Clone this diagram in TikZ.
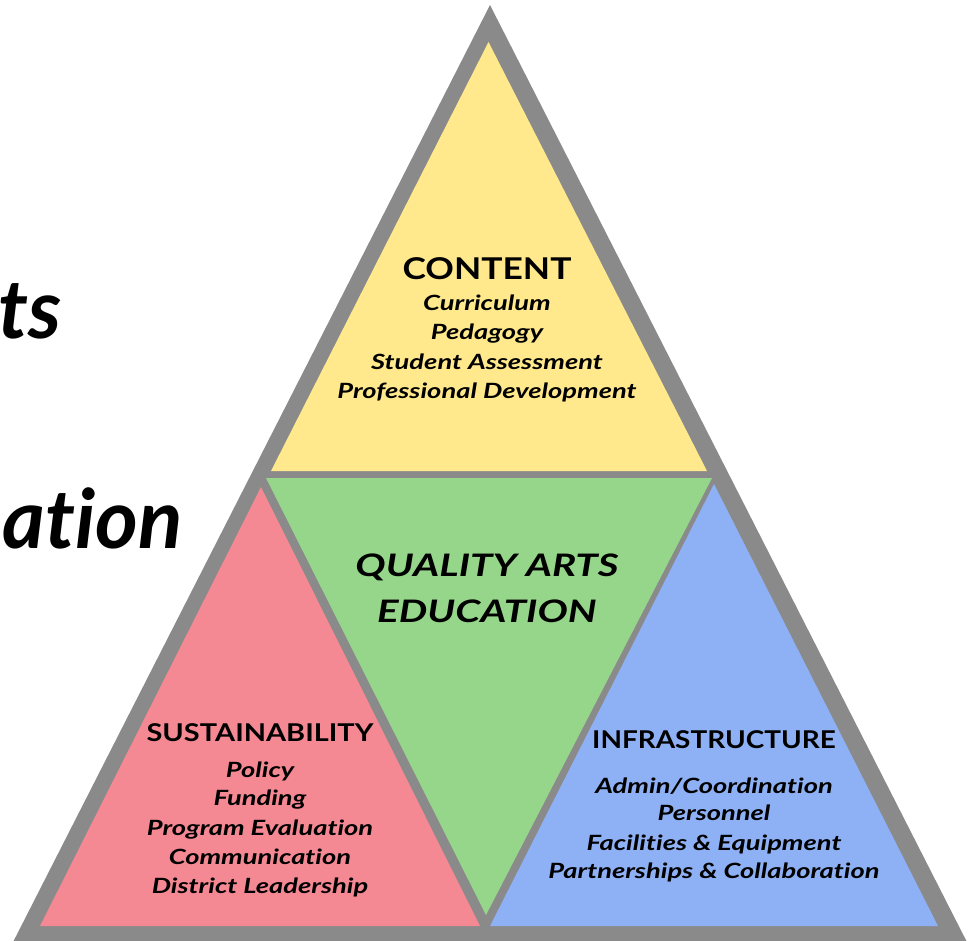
\documentclass[tikz,border=0pt]{standalone}
\usepackage{fontspec}
\setmainfont[Ligatures=NoCommon]{Lato}
\newfontfamily\itemfont[FakeStretch=1.3,Ligatures=NoCommon]{Lato}
\newfontfamily\headfont[FakeStretch=1.18,Ligatures=NoCommon]{Lato}
\newfontfamily\infrafont[FakeStretch=1.14,Ligatures=NoCommon]{Lato}
\definecolor{tyellow}{RGB}{255,233,140}
\definecolor{tgreen}{RGB}{150,214,138}
\definecolor{tpink}{RGB}{244,137,147}
\definecolor{tblue}{RGB}{142,176,244}
\definecolor{tgray}{RGB}{138,138,138}
\tikzset{
  head/.style={anchor=base, inner sep=0pt, font=\headfont\bfseries\fontsize{30}{30}\selectfont},
  subhead/.style={anchor=base, inner sep=0pt, font=\headfont\bfseries\fontsize{24.5}{24.5}\selectfont},
  infrahead/.style={anchor=base, inner sep=0pt, font=\infrafont\bfseries\fontsize{24.5}{24.5}\selectfont},
  item/.style={anchor=base, inner sep=0pt, font=\itemfont\bfseries\itshape\fontsize{21}{21}\selectfont},
  core/.style={anchor=base, inner sep=0pt, font=\itemfont\bfseries\itshape\fontsize{31}{31}\selectfont},
  bigtitle/.style={anchor=base east, inner sep=0pt, font=\bfseries\itshape\fontsize{82}{82}\selectfont},
}
\begin{document}
\begin{tikzpicture}[x=1pt,y=-1pt]
\useasboundingbox (0,0) rectangle (972,940);
\clip (0,0) rectangle (972,940);
% outer gray triangle
\fill[tgray] (490,5) -- (9,950) -- (971,950) -- cycle;
% coloured parts
\fill[tyellow] (488.5,42) -- (271,471) -- (707,471) -- cycle;
\fill[tgreen] (266,478) -- (712,478) -- (486,915) -- cycle;
\fill[tpink] (261,487) -- (40,926) -- (480,926) -- cycle;
\fill[tblue] (714,484) -- (490,926) -- (938,926) -- cycle;
% left cut-off title
\node[bigtitle] (ts) at (62,338) {ts};
\node[bigtitle] (ation) at (183,548) {ation};
% content
\node[head] (content) at (487,279) {CONTENT};
\node[item] (c1) at (487,310) {Curriculum};
\node[item] (c2) at (487,339.5) {Pedagogy};
\node[item] (c3) at (487,369) {Student Assessment};
\node[item] (c4) at (487,398) {Professional Development};
% core
\node[core] (q1) at (487,576) {QUALITY ARTS};
\node[core] (q2) at (487,622) {EDUCATION};
% sustainability
\node[subhead] (sus) at (260,741) {SUSTAINABILITY};
\node[item] (s1) at (260,777) {Policy};
\node[item] (s2) at (260,805) {Funding};
\node[item] (s3) at (260,835) {Program Evaluation};
\node[item] (s4) at (260,864) {Communication};
\node[item] (s5) at (260,893) {District Leadership};
% infrastructure
\node[infrahead] (inf) at (714,748) {INFRASTRUCTURE};
\node[item] (i1) at (714,793) {Admin/Coordination};
\node[item] (i2) at (714,820) {Personnel};
\node[item] (i3) at (714,850) {Facilities \& Equipment};
\node[item] (i4) at (714,878) {Partnerships \& Collaboration};
\end{tikzpicture}
\end{document}
